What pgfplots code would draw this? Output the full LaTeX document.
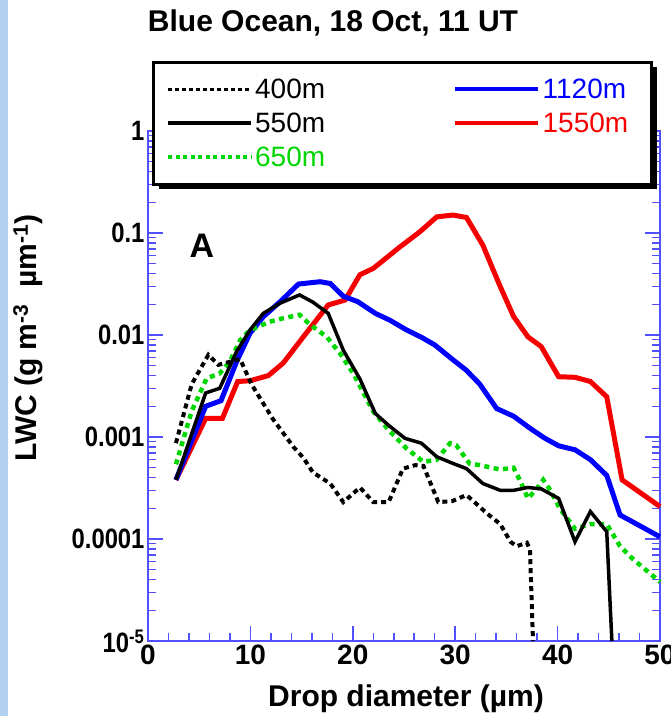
\documentclass[border=0pt]{standalone}
\usepackage{fontspec}
\setmainfont{Liberation Sans}
\newfontfamily\cond{Liberation Sans}[FakeStretch=0.85]
\usepackage{pgfplots}
\pgfplotsset{compat=1.18}
\definecolor{axisblue}{RGB}{80,80,255}
\definecolor{cblue}{RGB}{0,0,255}
\definecolor{cred}{RGB}{245,0,0}
\definecolor{cgreen}{RGB}{0,215,0}
\definecolor{stripblue}{RGB}{180,210,240}
\newcommand{\fs}[1]{\fontsize{#1}{#1}\selectfont}
\begin{document}
\begin{tikzpicture}
\useasboundingbox (-148pt,-75pt) rectangle (523pt,641pt);
\fill[stripblue] (-148pt,-75pt) rectangle (-140pt,641pt);
\begin{axis}[
  scale only axis, width=512pt, height=510pt,
  xmin=0, xmax=50, ymin=1e-5, ymax=1, ymode=log,
  clip=false,
  axis line style={draw=axisblue, line width=1.5pt},
  tick style={draw=axisblue, line width=1.5pt},
  major tick length=15pt, minor tick length=8pt,
  tick align=inside,
  xtick={0,10,20,30,40,50}, minor x tick num=4,
  xticklabels={0,10,20,30,40,50},
  xtick pos=bottom,
  ytick={1e-5,1e-4,0.001,0.01,0.1,1},
  yticklabels={10\textsuperscript{-5},0.0001,0.001,0.01,0.1,1},
  minor ytick={2e-5,3e-5,4e-5,5e-5,6e-5,7e-5,8e-5,9e-5,
    2e-4,3e-4,4e-4,5e-4,6e-4,7e-4,8e-4,9e-4,
    0.002,0.003,0.004,0.005,0.006,0.007,0.008,0.009,
    0.02,0.03,0.04,0.05,0.06,0.07,0.08,0.09,
    0.2,0.3,0.4,0.5,0.6,0.7,0.8,0.9},
  ytick pos=both,
  xticklabel style={font=\bfseries\fs{28}},
  yticklabel style={font=\cond\bfseries\fs{28}},
  legend columns=2,
  legend cell align=left,
  legend image code/.code={\draw[#1] (0pt,0pt) -- (83pt,0pt);},
  legend style={at={(rel axis cs:0.035,1.107)}, anchor=north west,
    draw=none, fill=none, inner sep=0pt, font=\fs{28},
    nodes={inner sep=2pt},
    /tikz/row sep=9pt,
    /tikz/every even column/.append style={column sep=126pt}},
]
% legend box with shadow
\fill[black, xshift=5pt, yshift=-5pt] (rel axis cs:0.0117,1.135) rectangle (rel axis cs:0.984,0.896);
\draw[line width=3pt, fill=white] (rel axis cs:0.0117,1.135) rectangle (rel axis cs:0.984,0.896);

\addlegendimage{black, line width=3pt, dash pattern=on 4pt off 3pt}
\addlegendentry{400m}
\addlegendimage{cblue, line width=4pt}
\addlegendentry{\textcolor{cblue}{1120m}}
\addlegendimage{black, line width=3.5pt}
\addlegendentry{550m}
\addlegendimage{cred, line width=4.5pt}
\addlegendentry{\textcolor{cred}{1550m}}
\addlegendimage{cgreen, line width=4pt, dash pattern=on 4pt off 3.5pt}
\addlegendentry{\textcolor{cgreen}{650m}}

% 1550 m
\addplot[cred, line width=5pt, forget plot] coordinates {
(2.73,3.8e-4) (5.63,1.52e-3) (7.26,1.52e-3) (8.76,3.5e-3) (9.96,3.56e-3)
(11.75,4.0e-3) (13.2,5.3e-3) (15.17,9.6e-3) (17.6,0.0197) (19.24,0.022)
(20.7,0.039) (22.0,0.045) (24.6,0.073) (26.56,0.103) (28.2,0.144)
(29.8,0.15) (31.1,0.142) (32.7,0.076) (34.4,0.0298) (35.7,0.0152)
(37.1,0.0096) (38.4,0.0077) (40.1,0.0039) (41.7,0.00385) (43.2,0.0035)
(44.8,0.00248) (46.3,3.8e-4) (50,2.08e-4)};
% 1120 m
\addplot[cblue, line width=5pt, forget plot] coordinates {
(2.73,3.8e-4) (5.63,2.0e-3) (7.13,2.27e-3) (8.66,5.5e-3) (9.96,0.0104)
(11.26,0.0151) (12.9,0.0212) (14.7,0.0316) (16.8,0.0333) (17.8,0.032)
(19.07,0.024) (20.5,0.0212) (22.2,0.0163) (23.6,0.014) (25.26,0.0112)
(26.7,0.0095) (28.0,0.008) (29.8,0.0057) (31.1,0.0045) (32.4,0.0033)
(34.05,0.0019) (35.7,0.0016) (37.3,0.00122) (38.7,0.00098) (40.1,8.2e-4)
(41.7,7.5e-4) (43.2,6.0e-4) (44.8,4.2e-4) (46.1,1.72e-4) (50,1.05e-4)};
% 650 m
\addplot[cgreen, line width=4.5pt, dash pattern=on 5pt off 4.5pt, forget plot] coordinates {
(2.73,5.4e-4) (4.27,1.8e-3) (5.73,3.76e-3) (7.0,4.2e-3) (8.0,5.5e-3)
(9.0,8.9e-3) (9.96,0.0112) (11.9,0.0135) (13.2,0.0146) (14.8,0.0158)
(15.8,0.0127) (17.45,0.0096) (18.75,0.0066) (20.05,0.0042) (22.0,1.78e-3)
(23.5,1.17e-3) (25.26,7.7e-4) (26.9,5.7e-4) (28.2,6.0e-4) (29.5,8.7e-4)
(30.1,8.3e-4) (31.4,5.5e-4) (32.4,5.3e-4) (34.4,4.8e-4) (35.7,5.0e-4)
(36.3,3.8e-4) (37.1,2.5e-4) (37.96,3.1e-4) (38.6,3.8e-4) (39.3,3.0e-4)
(40.2,2.0e-4) (41.7,1.26e-4) (43.2,1.4e-4) (44.8,1.4e-4) (46.1,8.5e-5)
(47.4,6.3e-5) (49.5,4.2e-5) (50,3.8e-5)};
% 550 m
\addplot[black, line width=3.5pt, forget plot] coordinates {
(2.73,3.8e-4) (5.63,2.7e-3) (7.0,3.0e-3) (8.66,6.9e-3) (9.96,0.0112)
(11.26,0.0163) (12.9,0.0205) (14.8,0.0247) (16.1,0.021) (17.6,0.0163)
(19.07,0.0071) (20.7,0.0037) (22.2,0.0017) (23.5,0.0013) (25.1,9.7e-4)
(26.7,8.7e-4) (28.2,6.4e-4) (29.8,5.5e-4) (31.1,4.9e-4) (32.7,3.5e-4)
(34.4,3.0e-4) (35.7,3.0e-4) (37.1,3.2e-4) (38.4,3.1e-4) (40.1,2.5e-4)
(41.7,9.4e-5) (43.2,1.86e-4) (44.8,1.18e-4) (45.3,1e-5)};
% 400 m
\addplot[black, line width=4pt, dash pattern=on 5pt off 4pt, forget plot] coordinates {
(2.73,8.7e-4) (4.27,3.3e-3) (5.9,6.4e-3) (6.86,5.1e-3) (9.0,5.8e-3)
(10.1,3.3e-3) (12.2,1.5e-3) (14.2,8.0e-4) (15.2,6.2e-4) (16.1,4.5e-4)
(17.8,3.5e-4) (19.07,2.3e-4) (20.7,3.2e-4) (22.0,2.3e-4) (23.5,2.3e-4)
(24.9,4.9e-4) (26.1,5.3e-4) (26.9,5.2e-4) (28.35,2.3e-4) (29.7,2.35e-4)
(31.1,2.7e-4) (32.1,2.2e-4) (33.1,1.78e-4) (34.4,1.4e-4) (35.4,9.4e-5)
(36.0,8.5e-5) (37.0,9.2e-5) (37.3,7.9e-5) (37.6,1e-5)};
\end{axis}
\node[anchor=base, font=\bfseries\fs{30}] at (185pt,609pt) {Blue Ocean, 18 Oct, 11 UT};
\node[anchor=base, font=\bfseries\fs{30}] at (258pt,-65pt) {Drop diameter (µm)};
\node[rotate=90, anchor=base, font=\bfseries\fs{30}] at (-111pt,303pt) {LWC (g m\textsuperscript{-3}\ \ µm\textsuperscript{-1})};
\node[font=\bfseries\fs{34}] at (54pt,395pt) {A};
\end{tikzpicture}
\end{document}
